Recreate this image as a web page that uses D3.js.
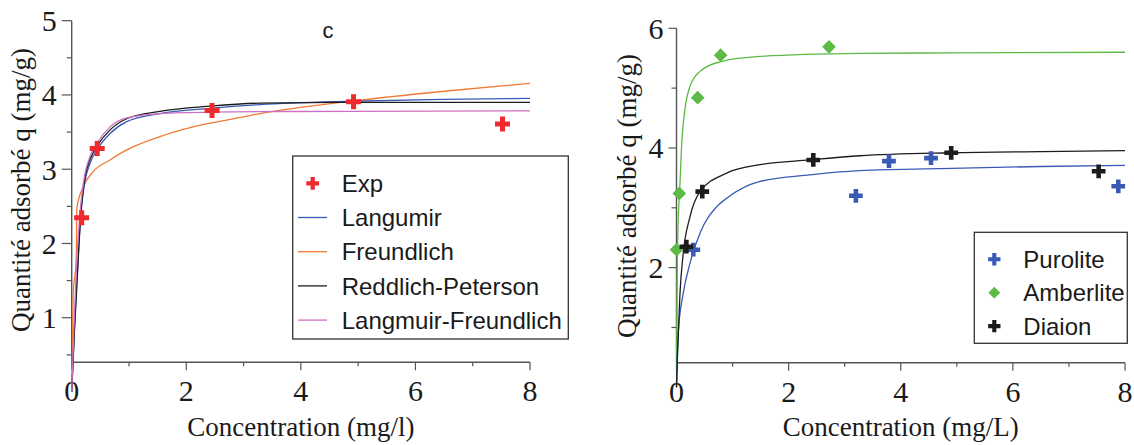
<!DOCTYPE html>
<html><head><meta charset="utf-8">
<script src="https://cdn.jsdelivr.net/npm/d3@7"></script>
<style>html,body{margin:0;padding:0;background:#fff;}svg{display:block;}</style>
</head><body>
<svg id="chart" width="1134" height="445"></svg>
<script>
// ---------- Data (left panel: model fits) ----------
const expC = [0.174, 0.445, 2.45, 4.92, 7.52];
const expQ = [2.345, 3.28, 3.79, 3.91, 3.61];
const langmuirPts = [[0,0],[0.05,0.9],[0.115,1.85],[0.15,2.3],[0.234,2.85],[0.32,3.08],[0.45,3.27],[0.67,3.48],[0.96,3.64],[1.54,3.75],[2.42,3.82],[3.29,3.87],[4.9,3.915],[6.5,3.94],[8,3.955]];
const freundlichPts = [[0,0],[0.015,0.6],[0.025,1.3],[0.08,1.8],[0.09,2.48],[0.2,2.76],[0.377,2.97],[0.668,3.125],[0.96,3.26],[1.54,3.44],[2.12,3.57],[2.7,3.66],[3.29,3.75],[4.92,3.92],[6.5,4.05],[8,4.157]];
const redlichPts = [[0,0],[0.05,0.85],[0.115,1.8],[0.15,2.3],[0.234,2.9],[0.32,3.13],[0.45,3.32],[0.67,3.53],[0.96,3.68],[1.54,3.78],[2.42,3.85],[3.29,3.89],[4.9,3.9],[6.5,3.9],[8,3.9]];
const lfPts = [[0,0],[0.04,0.9],[0.09,1.8],[0.15,2.45],[0.234,2.95],[0.32,3.17],[0.45,3.36],[0.67,3.57],[0.96,3.69],[1.54,3.75],[2.42,3.77],[3.29,3.775],[4.9,3.78],[8,3.785]];
const leftLegend = ["Exp","Langumir","Freundlich","Reddlich-Peterson","Langmuir-Freundlich"];
const leftYTicks = [1,2,3,4,5];
const leftYMinor = [0.5,1.5,2.5,3.5,4.5];
const xTicks = [0,2,4,6,8];
const xMinor = [1,3,5,7];

// ---------- Data (right panel: resins) ----------
const puroliteC = [0.30, 3.20, 3.79, 4.54, 7.88];
const puroliteQ = [2.30, 3.20, 3.78, 3.83, 3.36];
const amberliteC = [0.0, 0.05, 0.378, 0.787, 2.72];
const amberliteQ = [2.30, 3.24, 4.84, 5.55, 5.69];
const diaionC = [0.176, 0.46, 2.44, 4.90, 7.53];
const diaionQ = [2.35, 3.27, 3.80, 3.92, 3.61];
const puroliteFit = [[0,0],[0.03,0.9],[0.12,1.57],[0.24,2.07],[0.42,2.58],[0.72,3.02],[0.895,3.16],[1.49,3.44],[2.38,3.55],[3.27,3.62],[4.9,3.66],[6.5,3.69],[8,3.71]];
const amberliteFit = [[0,0],[0.01,1.6],[0.025,2.6],[0.045,3.1],[0.062,3.4],[0.09,4.02],[0.15,4.64],[0.24,5.03],[0.42,5.28],[0.78,5.44],[1.49,5.53],[3.27,5.58],[5,5.59],[8,5.6]];
const diaionFit = [[0,0],[0.02,0.6],[0.062,1.57],[0.12,2.24],[0.24,2.85],[0.42,3.27],[0.895,3.58],[1.49,3.72],[2.38,3.80],[3.27,3.87],[4.9,3.92],[6.5,3.94],[8,3.955]];
const rightLegend = ["Purolite","Amberlite","Diaion"];
const rightYTicks = [2,4,6];
const rightYMinor = [1,3,5];

// ---------- Styles ----------
const axisColor = "#555";
const serif = "'Liberation Serif','Times New Roman',serif";
const sans = "'Liberation Sans',Arial,sans-serif";
const cRed = "#ee2a2f", cBlue = "#3a5bb5", cOrange = "#f07a35", cBlack = "#1c1c1c", cPink = "#cf6fc4", cGreen = "#5cba45";

const svg = d3.select("#chart");

function drawAxes(g, x, y, yMin, yMax, yTicks, yMinor, majLen, minLen) {
  g.append("line").attr("x1", x(0)).attr("x2", x(0)).attr("y1", y(yMin)).attr("y2", y(yMax))
    .attr("stroke", axisColor).attr("stroke-width", 1.4);
  g.append("line").attr("x1", x(0)).attr("x2", x(8)).attr("y1", y(yMin)).attr("y2", y(yMin))
    .attr("stroke", axisColor).attr("stroke-width", 1.4);
  yTicks.forEach(v => {
    g.append("line").attr("x1", x(0) - majLen).attr("x2", x(0)).attr("y1", y(v)).attr("y2", y(v))
      .attr("stroke", axisColor).attr("stroke-width", 1.2);
    g.append("text").attr("x", x(0) - majLen - 5).attr("y", y(v)).attr("dy", "0.35em")
      .attr("text-anchor", "end").attr("font-family", serif).attr("font-size", 30).attr("fill", "#1a1a1a").text(v);
  });
  yMinor.forEach(v => {
    g.append("line").attr("x1", x(0) - minLen).attr("x2", x(0)).attr("y1", y(v)).attr("y2", y(v))
      .attr("stroke", axisColor).attr("stroke-width", 1.2);
  });
  xTicks.forEach(v => {
    g.append("line").attr("x1", x(v)).attr("x2", x(v)).attr("y1", y(yMin)).attr("y2", y(yMin) + 8)
      .attr("stroke", axisColor).attr("stroke-width", 1.2);
    g.append("text").attr("x", x(v)).attr("y", y(yMin) + 39)
      .attr("text-anchor", "middle").attr("font-family", serif).attr("font-size", 30).attr("fill", "#1a1a1a").text(v);
  });
  xMinor.forEach(v => {
    g.append("line").attr("x1", x(v)).attr("x2", x(v)).attr("y1", y(yMin)).attr("y2", y(yMin) + 4)
      .attr("stroke", axisColor).attr("stroke-width", 1.2);
  });
}

function drawCurve(g, x, y, pts, color, w) {
  const line = d3.line().x(d => x(d[0])).y(d => y(d[1])).curve(d3.curveMonotoneX);
  g.append("path").datum(pts).attr("d", line).attr("fill", "none").attr("stroke", color).attr("stroke-width", w || 1.3);
}

const cross = d3.symbol().type(d3.symbolCross);
const square = d3.symbol().type(d3.symbolSquare);

// ================= LEFT PANEL =================
const xL = d3.scaleLinear().domain([0, 8]).range([71.7, 530]);
const yL = d3.scaleLinear().domain([0, 5]).range([392, 20.7]);
const gL = svg.append("g");
drawAxes(gL, xL, yL, 0.4, 5, leftYTicks, leftYMinor, 10, 5);

drawCurve(gL, xL, yL, freundlichPts, cOrange);
drawCurve(gL, xL, yL, langmuirPts, cBlue);
drawCurve(gL, xL, yL, redlichPts, cBlack);
drawCurve(gL, xL, yL, lfPts, cPink);

expC.forEach((c, i) => {
  gL.append("path").attr("d", cross.size(125)()).attr("fill", cRed)
    .attr("transform", `translate(${xL(c)},${yL(expQ[i])})`);
});

gL.append("text").attr("x", 328).attr("y", 30).attr("dy", "0.35em").attr("text-anchor", "middle")
  .attr("font-family", sans).attr("font-size", 22).attr("fill", "#1a1a1a").text("c");

gL.append("text").attr("transform", "translate(30,190) rotate(-90)").attr("text-anchor", "middle")
  .attr("font-family", serif).attr("font-size", 27).attr("fill", "#1a1a1a").text("Quantité adsorbé q (mg/g)");
gL.append("text").attr("x", (xL(0) + xL(8)) / 2).attr("y", 436).attr("text-anchor", "middle")
  .attr("font-family", serif).attr("font-size", 27).attr("fill", "#1a1a1a").text("Concentration (mg/l)");

const legL = gL.append("g");
legL.append("rect").attr("x", 292.7).attr("y", 156).attr("width", 275.6).attr("height", 183)
  .attr("fill", "#fff").attr("stroke", "#333").attr("stroke-width", 1.3);
const leftColors = [cRed, cBlue, cOrange, cBlack, cPink];
leftLegend.forEach((name, i) => {
  const cy = 183.3 + i * 34.2;
  if (i === 0) {
    legL.append("path").attr("d", cross.size(90)()).attr("fill", cRed).attr("transform", `translate(312.7,${cy})`);
  } else {
    legL.append("line").attr("x1", 298).attr("x2", 327).attr("y1", cy).attr("y2", cy)
      .attr("stroke", leftColors[i]).attr("stroke-width", 1.3);
  }
  legL.append("text").attr("x", 341.7).attr("y", cy).attr("dy", "0.36em")
    .attr("font-family", sans).attr("font-size", 24).attr("fill", "#1a1a1a").text(name);
});

// ================= RIGHT PANEL =================
const xR = d3.scaleLinear().domain([0, 8]).range([676.5, 1125]);
const yR = d3.scaleLinear().domain([0, 6]).range([387.3, 28.3]);
const gR = svg.append("g");
drawAxes(gR, xR, yR, 0.41, 6, rightYTicks, rightYMinor, 8, 5);

drawCurve(gR, xR, yR, amberliteFit, cGreen);
drawCurve(gR, xR, yR, puroliteFit, cBlue);
drawCurve(gR, xR, yR, diaionFit, cBlack);

puroliteC.forEach((c, i) => {
  gR.append("path").attr("d", cross.size(105)()).attr("fill", cBlue)
    .attr("transform", `translate(${xR(c)},${yR(puroliteQ[i])})`);
});
amberliteC.forEach((c, i) => {
  gR.append("path").attr("d", square.size(94)()).attr("fill", cGreen)
    .attr("transform", `translate(${xR(c)},${yR(amberliteQ[i])}) rotate(45)`);
});
diaionC.forEach((c, i) => {
  gR.append("path").attr("d", cross.size(105)()).attr("fill", cBlack)
    .attr("transform", `translate(${xR(c)},${yR(diaionQ[i])})`);
});

gR.append("text").attr("transform", "translate(636,196) rotate(-90)").attr("text-anchor", "middle")
  .attr("font-family", serif).attr("font-size", 27).attr("fill", "#1a1a1a").text("Quantité adsorbé q (mg/g)");
gR.append("text").attr("x", (xR(0) + xR(8)) / 2).attr("y", 436).attr("text-anchor", "middle")
  .attr("font-family", serif).attr("font-size", 27).attr("fill", "#1a1a1a").text("Concentration (mg/L)");

const legR = gR.append("g");
legR.append("rect").attr("x", 974.3).attr("y", 232.3).attr("width", 153).attr("height", 111)
  .attr("fill", "#fff").attr("stroke", "#333").attr("stroke-width", 1.3);
rightLegend.forEach((name, i) => {
  const cy = 259.3 + i * 33.4;
  if (i === 1) {
    legR.append("path").attr("d", square.size(70)()).attr("fill", cGreen)
      .attr("transform", `translate(994.3,${cy}) rotate(45)`);
  } else {
    legR.append("path").attr("d", cross.size(85)()).attr("fill", i === 0 ? cBlue : cBlack)
      .attr("transform", `translate(994.3,${cy})`);
  }
  legR.append("text").attr("x", 1023.3).attr("y", cy).attr("dy", "0.36em")
    .attr("font-family", sans).attr("font-size", 24).attr("fill", "#1a1a1a").text(name);
});
</script>
</body></html>
